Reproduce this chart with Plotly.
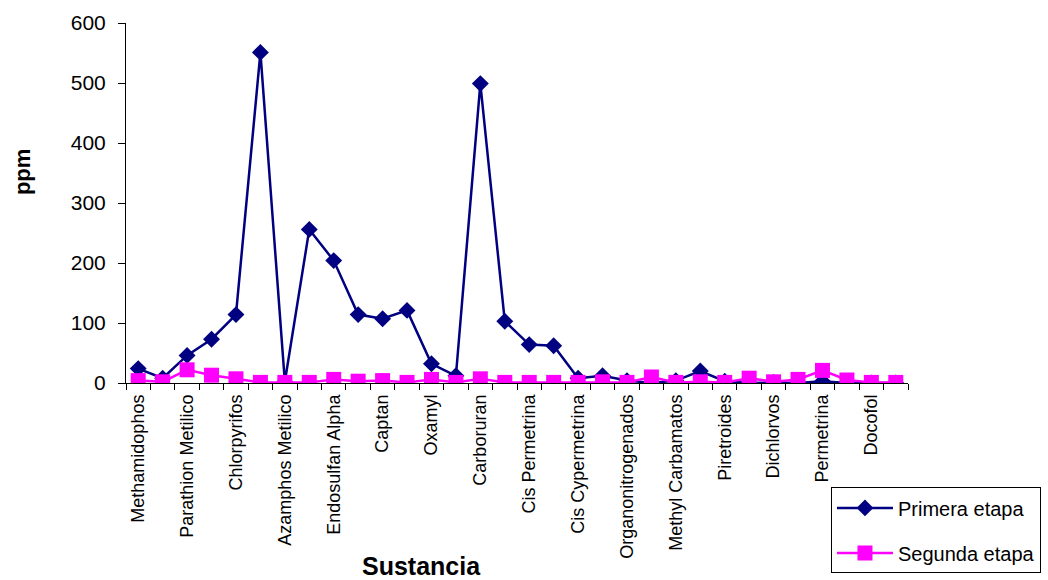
import plotly.graph_objects as go

# Substance names shown on the axis (every second position is labelled)
tick_labels = [
    "Methamidophos", "Parathion Metilico", "Chlorpyrifos", "Azamphos Metilico",
    "Endosulfan Alpha", "Captan", "Oxamyl", "Carboruran", "Cis Permetrina",
    "Cis Cypermetrina", "Organonitrogenados", "Methyl Carbamatos", "Piretroides",
    "Dichlorvos", "Permetrina", "Docofol",
]

# ppm measured per position
primera_etapa = [24, 8, 46, 73, 114, 551, 2, 256, 204, 114, 107, 121, 32, 12, 499, 103,
                 64, 62, 8, 12, 4, 0, 4, 20, 3, 0, 1, 0, 3, 0, 0, 0]
segunda_etapa = [4, 2, 22, 13, 7, 1, 1, 1, 6, 3, 4, 1, 6, 1, 7, 1,
                 1, 1, 1, 2, 1, 10, 1, 2, 1, 8, 2, 6, 21, 5, 1, 1]

n = len(primera_etapa)
x = list(range(n))
label_pos = x[::2][:len(tick_labels)]

AXIS_FONT = "Liberation Sans, Arial, sans-serif"

fig = go.Figure()
fig.add_trace(go.Scatter(
    x=x, y=primera_etapa, name="Primera etapa", mode="lines+markers",
    line=dict(color="#000080", width=2.5),
    marker=dict(symbol="diamond", size=13, color="#000080"),
    legendgroup="a",
))
fig.add_trace(go.Scatter(
    x=x, y=segunda_etapa, name="Segunda etapa", mode="lines+markers",
    line=dict(color="#FF00FF", width=2.5),
    marker=dict(symbol="square", size=15, color="#FF00FF"),
    legendgroup="b",
))

# invisible trace to carry the labelled category axis
fig.add_trace(go.Scatter(x=x, y=[None] * n, xaxis="x2", showlegend=False,
                         hoverinfo="skip"))

fig.update_layout(
    width=1048, height=580,
    margin=dict(l=126, r=140, t=23, b=197, autoexpand=False),
    paper_bgcolor="white", plot_bgcolor="white",
    showlegend=True,
    xaxis=dict(
        range=[-0.5, n - 0.5],
        tickmode="array",
        tickvals=[k - 0.5 for k in range(n + 1)],
        showticklabels=False,
        ticks="outside", ticklen=6, tickcolor="black", tickwidth=1,
        showline=True, linecolor="black", linewidth=1,
        showgrid=False, zeroline=False,
    ),
    xaxis2=dict(
        overlaying="x", anchor="y", side="bottom",
        range=[-0.5, n - 0.5],
        tickmode="array", tickvals=label_pos, ticktext=tick_labels,
        tickangle=-90, ticks="",
        tickfont=dict(family=AXIS_FONT, size=18, color="black"),
        ticklabelstandoff=7,
        showline=False, showgrid=False, zeroline=False,
    ),
    yaxis=dict(
        range=[0, 600], tickmode="array", tickvals=[0, 100, 200, 300, 400, 500, 600],
        ticks="outside", ticklen=7, tickcolor="black", tickwidth=1,
        tickfont=dict(family=AXIS_FONT, size=21, color="black"),
        ticklabelstandoff=8,
        showline=True, linecolor="black", linewidth=1,
        showgrid=False, zeroline=False,
    ),
    legend=dict(
        x=0.9015, y=-0.29, xanchor="left", yanchor="top",
        bordercolor="black", borderwidth=1, bgcolor="white",
        font=dict(family=AXIS_FONT, size=20, color="black"),
        itemwidth=56, tracegroupgap=16, traceorder="grouped",
    ),
    annotations=[
        dict(text="<b>Sustancia</b>", xref="paper", yref="paper",
             x=(421 - 126) / 782, y=(382.7 - 566) / 359.7,
             xanchor="center", yanchor="middle", showarrow=False,
             font=dict(family=AXIS_FONT, size=25, color="black")),
        dict(text="<b>ppm</b>", xref="paper", yref="paper",
             x=(22 - 126) / 782, y=(382.7 - 172) / 359.7,
             xanchor="center", yanchor="middle", showarrow=False, textangle=-90,
             font=dict(family=AXIS_FONT, size=22, color="black")),
    ],
)

fig.write_html("out.html")
